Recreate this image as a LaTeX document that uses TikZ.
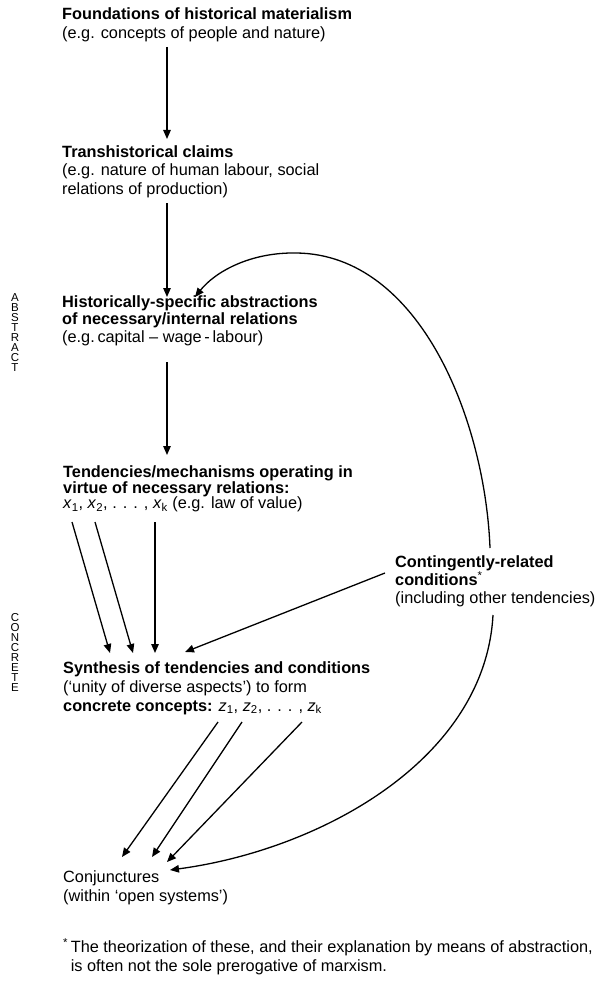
\documentclass[tikz,border=0pt]{standalone}
\usepackage{fontspec}
\setmainfont{Liberation Sans}
\usetikzlibrary{arrows.meta}
\newcommand{\mystrut}{\rule{0pt}{13pt}}
\newcommand{\smallstrut}{\rule{0pt}{9pt}}
\begin{document}
\begin{tikzpicture}[x=1pt,y=-1pt,
  txt/.style={anchor=north west, inner sep=0pt, align=left},
  arr/.style={line width=1.3pt, -{Triangle[length=9pt,width=7.5pt]}},
  side/.style={anchor=north, inner sep=0pt, align=center, font=\fontsize{11.5}{10.1}\selectfont}]
\useasboundingbox (0,0) rectangle (599,987);
\fill[white] (0,0) rectangle (599,987);

% text blocks
\node[txt, font=\fontsize{16.3}{19}\selectfont] (found) at (62,6)
  {\mystrut\textbf{Foundations of historical materialism}\\(e.g. concepts of people and nature)};
\node[txt, font=\fontsize{16.3}{18.5}\selectfont] (trans) at (62,144)
  {\mystrut\textbf{Transhistorical claims}\\(e.g. nature of human labour, social\\relations of production)};
\node[txt, font=\fontsize{16.3}{17.5}\selectfont] (hist) at (62,294)
  {\mystrut\textbf{Historically-specific abstractions}\\\textbf{of necessary/internal relations}\\(e.g.\,capital -- wage\,-\,labour)};
\node[txt, font=\fontsize{16.3}{15.8}\selectfont] (tend) at (63,464)
  {\mystrut\textbf{Tendencies/mechanisms operating in}\\\textbf{virtue of necessary relations:}\\\textit{x}\textsubscript{1}, \textit{x}\textsubscript{2}, . . . , \textit{x}\textsubscript{k} (e.g. law of value)};
\node[txt, font=\fontsize{16.3}{17.5}\selectfont] (cont) at (395,554)
  {\mystrut\textbf{Contingently-related}\\\textbf{conditions}\textsuperscript{*}\\(including other tendencies)};
\node[txt, font=\fontsize{16.3}{19}\selectfont] (synth) at (63,660)
  {\mystrut\textbf{Synthesis of tendencies and conditions}\\(‘unity of diverse aspects’) to form\\\textbf{concrete concepts:} \textit{z}\textsubscript{1}, \textit{z}\textsubscript{2}, . . . , \textit{z}\textsubscript{k}};
\node[txt, font=\fontsize{16.3}{19}\selectfont] (conj) at (63,869)
  {\mystrut Conjunctures\\(within ‘open systems’)};
\node[txt, font=\fontsize{16.3}{19.5}\selectfont] (foot) at (63,938)
  {\mystrut\textsuperscript{*}\,The theorization of these, and their explanation by means of abstraction,\\\hphantom{\textsuperscript{*}}\,is often not the sole prerogative of marxism.};

\node[side] (abs) at (15,292) {\smallstrut A\\B\\S\\T\\R\\A\\C\\T};
\node[side] (conc) at (15,612) {\smallstrut C\\O\\N\\C\\R\\E\\T\\E};

% connector end points
\coordinate (a1s) at (167,47);  \coordinate (a1e) at (167,139);
\coordinate (a2s) at (167,203); \coordinate (a2e) at (167,297);
\coordinate (a3s) at (167,362); \coordinate (a3e) at (167,455);
\coordinate (x1s) at (72,522);  \coordinate (x1e) at (110,653);
\coordinate (x2s) at (95,522);  \coordinate (x2e) at (133,653);
\coordinate (xks) at (155,522); \coordinate (xke) at (155,653);
\coordinate (cs) at (385,573);  \coordinate (ce) at (185,652);
\coordinate (z1s) at (218,722); \coordinate (z1e) at (122,857);
\coordinate (z2s) at (242,722); \coordinate (z2e) at (152,857);
\coordinate (zks) at (302,722); \coordinate (zke) at (167,862);
\coordinate (up) at (490,548);  \coordinate (top) at (297,253); \coordinate (upe) at (195,297);
\coordinate (dn) at (493,615);  \coordinate (dne) at (170,870);

% connectors
\draw[arr] (a1s) -- (a1e);
\draw[arr] (a2s) -- (a2e);
\draw[arr] (a3s) -- (a3e);
\draw[arr] (x1s) -- (x1e);
\draw[arr] (x2s) -- (x2e);
\draw[arr] (xks) -- (xke);
\draw[arr] (cs) -- (ce);
\draw[arr] (z1s) -- (z1e);
\draw[arr] (z2s) -- (z2e);
\draw[arr] (zks) -- (zke);
\draw[arr] (up) .. controls (485,420) and (420,255) .. (top)
               .. controls (250,252) and (215,272) .. (upe);
\draw[arr] (dn) .. controls (485,760) and (320,850) .. (dne);
\end{tikzpicture}
\end{document}
